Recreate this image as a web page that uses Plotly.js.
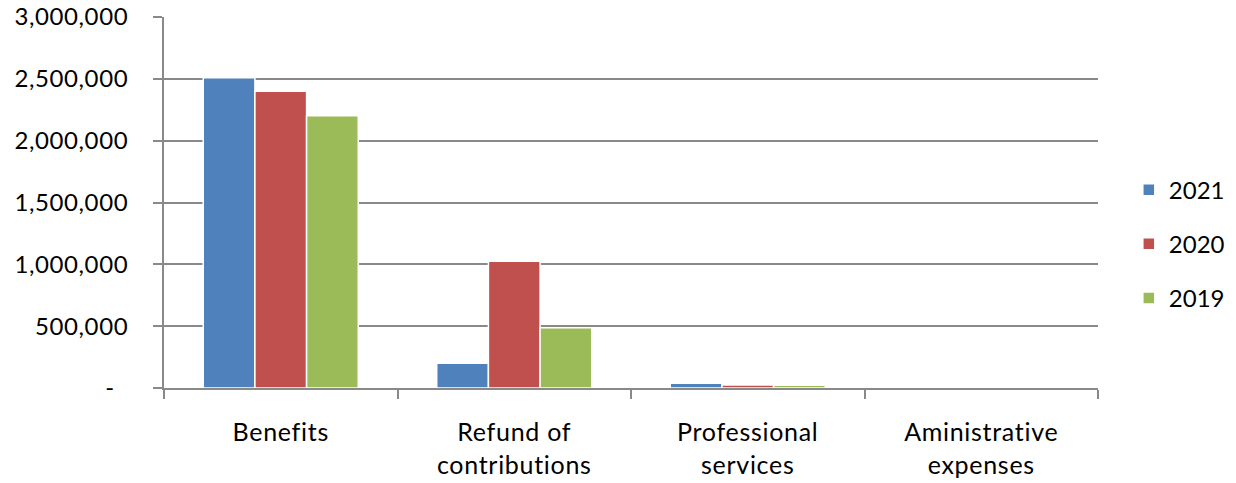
<!DOCTYPE html>
<html>
<head>
<meta charset="utf-8">
<script src="https://cdn.plot.ly/plotly-3.0.1.min.js"></script>
<style>
html,body{margin:0;padding:0;background:#fff;}
#chart{width:1236px;height:483px;}
#chart .xtick text{letter-spacing:0.7px;}
#chart .ytick text{letter-spacing:0.6px;}
</style>
</head>
<body>
<div id="chart"></div>
<script>
var categories = ["Benefits", "Refund of<br>contributions", "Professional<br>services", "Aministrative<br>expenses"];
var years = ["2021", "2020", "2019"];
var values2021 = [2508000, 200000, 38000, 2000];
var values2020 = [2399000, 1024000, 24000, 0];
var values2019 = [2202000, 487000, 22000, 2000];
var colors = ["#4F81BD", "#C0504D", "#9BBB59"];
var yTickVals = [0, 500000, 1000000, 1500000, 2000000, 2500000, 3000000];
var yTickText = ["-\u00a0\u00a0", "500,000", "1,000,000", "1,500,000", "2,000,000", "2,500,000", "3,000,000"];

var series = [values2021, values2020, values2019];
var traces = series.map(function (vals, i) {
  return {
    type: "bar",
    name: years[i],
    x: categories,
    y: vals,
    legendgroup: "g" + i,
    marker: { color: colors[i], line: { color: "#ffffff", width: 1.5 } },
    hoverinfo: "x+y+name"
  };
});

var fontFam = "Lato, 'Open Sans', sans-serif";
var layout = {
  width: 1236,
  height: 483,
  margin: { l: 164, r: 138, t: 17, b: 95, autoexpand: false },
  paper_bgcolor: "#ffffff",
  plot_bgcolor: "#ffffff",
  barmode: "group",
  bargap: 0.336,
  bargroupgap: 0,
  font: { family: fontFam, size: 24, color: "#000000" },
  showlegend: true,
  legend: {
    x: 1.033, xanchor: "left", y: 0.388, yanchor: "middle",
    font: { family: fontFam, size: 24, color: "#000000" },
    tracegroupgap: 20,
    traceorder: "grouped"
  },
  xaxis: {
    type: "category",
    showline: true, linecolor: "#898989", linewidth: 2,
    ticks: "outside", tickson: "boundaries", ticklen: 9, tickcolor: "#898989", tickwidth: 2,
    showgrid: false, zeroline: false,
    ticklabelstandoff: 21,
    tickfont: { family: fontFam, size: 25, color: "#000000" }
  },
  yaxis: {
    range: [0, 3000000],
    tickmode: "array", tickvals: yTickVals, ticktext: yTickText,
    showline: true, linecolor: "#898989", linewidth: 2,
    ticks: "outside", ticklen: 9, tickcolor: "#898989", tickwidth: 2,
    showgrid: true, gridcolor: "#898989", gridwidth: 2,
    zeroline: false,
    ticklabelstandoff: 20,
    tickfont: { family: fontFam, size: 24, color: "#000000" }
  }
};

Plotly.newPlot("chart", traces, layout, { displayModeBar: false, staticPlot: true });
</script>
</body>
</html>
